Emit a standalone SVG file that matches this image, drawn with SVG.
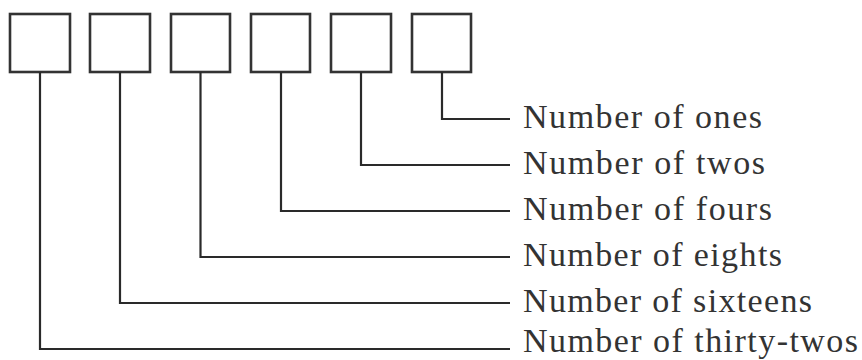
<svg xmlns="http://www.w3.org/2000/svg" width="862" height="360" viewBox="0 0 862 360">
  <style>
    .box { fill: #ffffff; stroke: #333333; stroke-width: 2.6; }
    .lead { fill: none; stroke: #2a2a2a; stroke-width: 2.2; }
    .label { font-family: "Liberation Serif", "Times New Roman", serif; font-size: 34px; fill: #333333; }
  </style>
  <rect width="862" height="360" fill="#ffffff"/>

  <!-- digit boxes, most significant on the left -->
  <g id="box-32"><rect class="box" x="10" y="14" width="60" height="58"/></g>
  <g id="box-16"><rect class="box" x="90" y="14" width="60" height="58"/></g>
  <g id="box-8"><rect class="box" x="171" y="14" width="59" height="58"/></g>
  <g id="box-4"><rect class="box" x="251" y="14" width="59" height="58"/></g>
  <g id="box-2"><rect class="box" x="331" y="14" width="60" height="58"/></g>
  <g id="box-1"><rect class="box" x="412" y="14" width="59" height="58"/></g>

  <!-- leader lines from each box to its label -->
  <g id="connectors">
    <path class="lead" d="M442 72 V119 H510"/>
    <path class="lead" d="M361 72 V165 H510"/>
    <path class="lead" d="M281 72 V211 H510"/>
    <path class="lead" d="M200.5 72 V257 H510"/>
    <path class="lead" d="M120 72 V303 H510"/>
    <path class="lead" d="M40 72 V349 H510"/>
  </g>

  <g id="labels">
    <text class="label" x="523" y="128" textLength="239" lengthAdjust="spacing">Number of ones</text>
    <text class="label" x="523" y="174" textLength="242" lengthAdjust="spacing">Number of twos</text>
    <text class="label" x="523" y="220" textLength="249" lengthAdjust="spacing">Number of fours</text>
    <text class="label" x="523" y="266" textLength="259" lengthAdjust="spacing">Number of eights</text>
    <text class="label" x="523" y="312" textLength="289" lengthAdjust="spacing">Number of sixteens</text>
    <text class="label" x="523" y="352" textLength="335" lengthAdjust="spacing">Number of thirty-twos</text>
  </g>
</svg>
